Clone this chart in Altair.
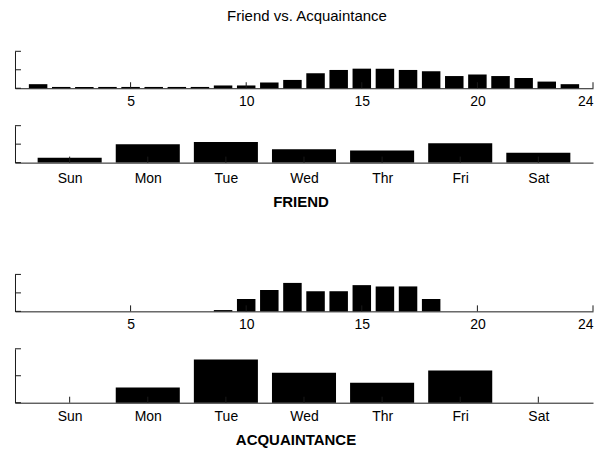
import json
import altair as alt
import pandas as pd

# ---------------- data ----------------
hours = list(range(1, 25))
friend_hourly = [0.022, 0.007, 0.007, 0.007, 0.007, 0.007, 0.007, 0.007,
                 0.015, 0.015, 0.031, 0.045, 0.081, 0.099, 0.106, 0.106,
                 0.099, 0.092, 0.066, 0.074, 0.066, 0.056, 0.036, 0.022]
acq_hourly = [0, 0, 0, 0, 0, 0, 0, 0,
              0.007, 0.067, 0.116, 0.154, 0.109, 0.109, 0.142, 0.135,
              0.135, 0.067, 0, 0, 0, 0, 0, 0]

days = ["Sun", "Mon", "Tue", "Wed", "Thr", "Fri", "Sat"]
day_index = [1, 2, 3, 4, 5, 6, 7]
friend_daily = [0.054, 0.198, 0.224, 0.144, 0.130, 0.209, 0.108]
acq_daily = [0, 0.113, 0.321, 0.222, 0.148, 0.239, 0]

hour_ticks = [5, 10, 15, 20, 25]
hour_tick_labels = ["5", "10", "15", "20", "24"]
hourly_yticks = [0, 0.1, 0.2]
daily_yticks = [0, 0.2, 0.4]

FONT = "Liberation Sans"
AX = "#1a1a1a"
W = 579
TICK = 6


def y_ticks_layer(vals, height):
    return alt.Chart(pd.DataFrame({"v": vals})).mark_rule(color=AX, strokeWidth=1).encode(
        y=alt.Y("v:Q"),
        x=alt.value(0),
        x2=alt.value(TICK),
    )


def x_ticks_layer(vals, height):
    return alt.Chart(pd.DataFrame({"lo": vals})).mark_rule(color=AX, strokeWidth=1).encode(
        x=alt.X("lo:Q"),
        y=alt.value(height),
        y2=alt.value(height - TICK),
    )


hour_label_map = json.dumps({str(k): v for k, v in zip(hour_ticks, hour_tick_labels)})
day_label_map = json.dumps({str(k): v for k, v in zip(day_index, days)})


def hourly_panel(values, height):
    df = pd.DataFrame({"h": hours, "v": values})
    bars = alt.Chart(df).transform_calculate(
        lo="datum.h - 0.4", hi="datum.h + 0.4"
    ).mark_bar(color="black", stroke=None).encode(
        x=alt.X("lo:Q", scale=alt.Scale(domain=[0, 25], nice=False, zero=False),
                axis=alt.Axis(values=hour_ticks, labelExpr=hour_label_map + "[datum.value + '']",
                              ticks=False, grid=False, title=None, domainColor=AX,
                              labelPadding=6.5, labelFontSize=14, labelFont=FONT,
                              labelColor="black", labelFlush=True, labelOverlap=False)),
        x2="hi:Q",
        y=alt.Y("v:Q", scale=alt.Scale(domain=[0, 0.2], nice=False),
                axis=alt.Axis(labels=False, ticks=False, grid=False, title=None, domainColor=AX)),
        y2=alt.datum(0),
    )
    return alt.layer(bars, x_ticks_layer(hour_ticks, height), y_ticks_layer(hourly_yticks, height)).properties(
        width=W, height=height)


def daily_panel(values, height, title, title_x, label_pad, title_pad):
    df = pd.DataFrame({"d": day_index, "v": values})
    bars = alt.Chart(df).transform_calculate(
        lo="datum.d - 0.41", hi="datum.d + 0.41"
    ).mark_bar(color="black", stroke=None).encode(
        x=alt.X("lo:Q", scale=alt.Scale(domain=[0.3, 7.7], nice=False, zero=False),
                axis=alt.Axis(values=day_index, labelExpr=day_label_map + "[datum.value + '']",
                              ticks=False, grid=False, domainColor=AX,
                              labelPadding=label_pad, labelFontSize=14, labelFont=FONT,
                              labelColor="black", labelFlush=False, labelOverlap=False,
                              title=title, titleFont=FONT, titleFontSize=15, titleFontWeight="bold",
                              titleColor="black", titlePadding=title_pad, titleX=title_x)),
        x2="hi:Q",
        y=alt.Y("v:Q", scale=alt.Scale(domain=[0, 0.4], nice=False),
                axis=alt.Axis(labels=False, ticks=False, grid=False, title=None, domainColor=AX)),
        y2=alt.datum(0),
    )
    return alt.layer(bars, x_ticks_layer(day_index, height), y_ticks_layer(daily_yticks, height)).properties(
        width=W, height=height)


p1 = hourly_panel(friend_hourly, 37)
p2 = daily_panel(friend_daily, 37, "FRIEND", 286, 9, 8.5)
p3 = hourly_panel(acq_hourly, 37)
p4 = daily_panel(acq_daily, 54, "ACQUAINTANCE", 281, 7, 9)

top = alt.vconcat(p1, p2, spacing=15.5)
bot = alt.vconcat(p3, p4, spacing=15.5)

chart = alt.vconcat(top, bot, spacing=64.5).properties(
    title=alt.TitleParams("Friend vs. Acquaintance", font=FONT, fontSize=15, fontWeight="normal",
                          color="black", anchor="middle", offset=27, dx=3),
    padding={"left": 6, "top": 0, "right": 0, "bottom": 0},
).configure_view(stroke=None).configure_axis(domainWidth=1)

chart.save("out.html", embed_options={"renderer": "svg", "actions": False})
